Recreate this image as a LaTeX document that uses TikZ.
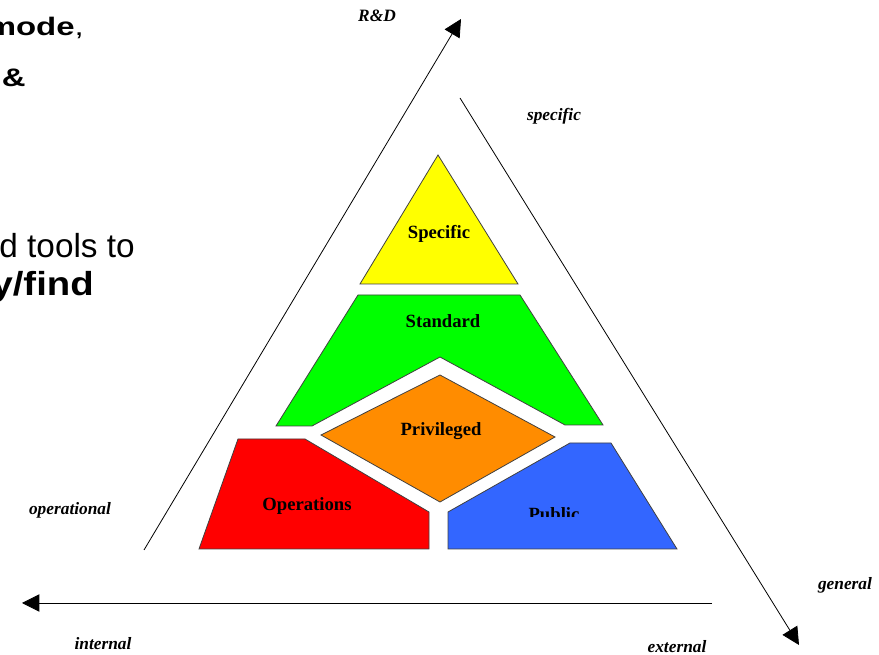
\documentclass[tikz,border=0pt]{standalone}
\usepackage{fontspec}
\setmainfont{Liberation Serif}
\setsansfont{Liberation Sans}
\usetikzlibrary{arrows.meta}

\begin{document}
\begin{tikzpicture}[x=0.75pt, y=-0.75pt,
  part/.style={draw=black!75, line width=0.6pt},
  lab/.style={anchor=base, font=\fontsize{14}{16}\selectfont\bfseries},
  dim/.style={anchor=base, font=\fontsize{13}{15}\selectfont\bfseries\itshape},
  slide/.style={anchor=base east, inner sep=0pt, font=\fontsize{25}{29}\selectfont\sffamily},
  small slide/.style={slide, font=\fontsize{19}{23}\selectfont\sffamily},
  axis/.style={line width=0.6pt, -{Triangle[length=13pt,width=13pt]}}]
\useasboundingbox (0,0) rectangle (879,655);

% cut-off slide text
\node[small slide] (t1) at (84,36) {\scalebox{1.3}[1]{\textbf{mode},}};
\node[small slide] (t2) at (26,87) {\scalebox{1.3}[1]{\textbf{\&}}};
\node[slide] (t3) at (135,258) {d tools to};
\node[slide] (t4) at (94,296) {\scalebox{1.15}[1]{\textbf{y/find}}};

% axes
\coordinate (ob) at (144,550);
\coordinate (rd) at (461,19);
\coordinate (st) at (460,98);
\coordinate (ge) at (799,645);
\coordinate (ex) at (712,603);
\coordinate (in) at (22,603);
\draw[axis] (ob) -- (rd);
\draw[axis] (st) -- (ge);
\draw[axis] (ex) -- (in);

\node[dim] (r) at (377,22) {R\&D};
\node[dim] (s) at (554,121) {specific};
\node[dim] (g) at (845,590) {general};
\node[dim] (e) at (677,653) {external};
\node[dim] (i) at (103,650) {internal};
\node[dim] (o) at (70,515) {operational};

% pyramid parts
\filldraw[part, fill={rgb,255:red,255;green,255;blue,0}]
  (438,155) -- (518,284) -- (360,284) -- cycle;
\filldraw[part, fill={rgb,255:red,0;green,255;blue,0}]
  (358,295) -- (520,295) -- (603,425) -- (565,425) -- (440,357)
  -- (312,426) -- (276,426) -- cycle;
\filldraw[part, fill={rgb,255:red,255;green,140;blue,0}]
  (440,375) -- (555,437) -- (440,502) -- (321,435) -- cycle;
\filldraw[part, fill={rgb,255:red,255;green,0;blue,0}]
  (199,549) -- (238,439) -- (305,439) -- (429,512) -- (429,549) -- cycle;
\filldraw[part, fill={rgb,255:red,51;green,102;blue,255}]
  (448,512) -- (570,443) -- (611,443) -- (677,549) -- (448,549) -- cycle;

\node[lab] (a) at (439,239) {Specific};
\node[lab] (b) at (443,328) {Standard};
\node[lab] (c) at (441,436) {Privileged};
\node[lab] (d) at (307,511) {Operations};
\begin{scope}
\clip (500,500) rectangle (610,517);
\node[lab] (f) at (554,521) {Public};
\end{scope}

\end{tikzpicture}
\end{document}
